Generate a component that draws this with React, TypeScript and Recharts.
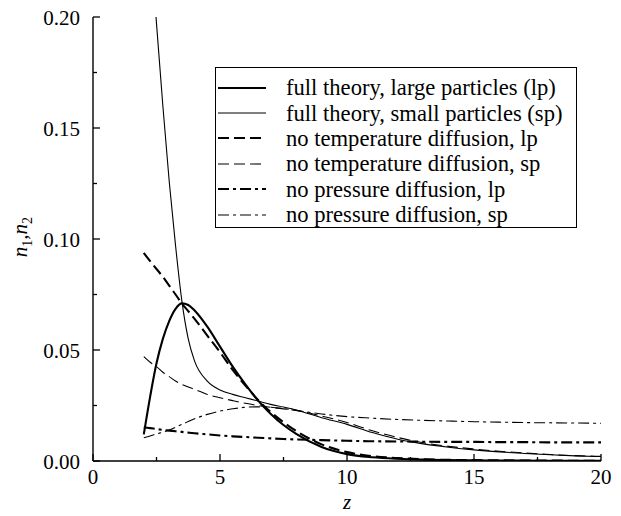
import { LineChart, Line, XAxis, YAxis } from "recharts"

const zValues = [2, 2.25, 2.5, 2.75, 3, 3.25, 3.5, 3.75, 4, 4.5, 5, 5.5, 6, 6.5, 7, 7.5, 8, 9, 10, 11, 12, 13, 14, 15, 16, 17, 18, 19, 20]

const fullLp = [0.012, 0.029, 0.044, 0.055, 0.063, 0.0685, 0.071, 0.0703, 0.0678, 0.0605, 0.0515, 0.0425, 0.0345, 0.0272, 0.0212, 0.0162, 0.0122, 0.0063, 0.0031, 0.0017, 0.001, 0.0006, 0.0004, 0.0003, 0.0002, 0.00015, 0.0001, 0.0001, 0.0001]
const fullSp = [0.29, 0.24, 0.197, 0.16, 0.126, 0.097, 0.072, 0.055, 0.045, 0.036, 0.032, 0.03, 0.0285, 0.027, 0.0255, 0.0243, 0.023, 0.0195, 0.0165, 0.0128, 0.0098, 0.0077, 0.0062, 0.005, 0.0041, 0.0034, 0.0028, 0.0023, 0.002]
const noTempLp = [0.0937, 0.09, 0.0865, 0.083, 0.079, 0.075, 0.071, 0.0675, 0.064, 0.0565, 0.049, 0.041, 0.034, 0.0275, 0.022, 0.0175, 0.0135, 0.0075, 0.004, 0.0022, 0.0013, 0.0008, 0.0005, 0.0004, 0.0003, 0.0002, 0.0002, 0.0001, 0.0001]
const noTempSp = [0.047, 0.0445, 0.0425, 0.04, 0.038, 0.036, 0.0345, 0.0333, 0.0323, 0.03, 0.0285, 0.0272, 0.026, 0.025, 0.0242, 0.0235, 0.0228, 0.0203, 0.0173, 0.0136, 0.0106, 0.0082, 0.0066, 0.0054, 0.0044, 0.0036, 0.0029, 0.0024, 0.0021]
const noPressLp = [0.0152, 0.0148, 0.0144, 0.014, 0.0137, 0.0134, 0.0131, 0.0128, 0.0125, 0.012, 0.0115, 0.0111, 0.0108, 0.0105, 0.0102, 0.0099, 0.0097, 0.0094, 0.0091, 0.0089, 0.0088, 0.0087, 0.0086, 0.0086, 0.0085, 0.0085, 0.0084, 0.0084, 0.0084]
const noPressSp = [0.0105, 0.0113, 0.0122, 0.013, 0.014, 0.0152, 0.0165, 0.0178, 0.019, 0.021, 0.0225, 0.0235, 0.0242, 0.0244, 0.0242, 0.0236, 0.0228, 0.0212, 0.02, 0.0193, 0.0187, 0.0183, 0.018, 0.0177, 0.0175, 0.0173, 0.0172, 0.0171, 0.017]

const xTicks = [0, 2.5, 5, 7.5, 10, 12.5, 15, 17.5, 20]
const yTicks = [0, 0.025, 0.05, 0.075, 0.1, 0.125, 0.15, 0.175, 0.2]

const seriesNames = [
  "full theory, large particles (lp)",
  "full theory, small particles (sp)",
  "no temperature diffusion, lp",
  "no temperature diffusion, sp",
  "no pressure diffusion, lp",
  "no pressure diffusion, sp",
]

const data = zValues.map((z, i) => ({
  z,
  fullLp: fullLp[i],
  fullSp: fullSp[i],
  noTempLp: noTempLp[i],
  noTempSp: noTempSp[i],
  noPressLp: noPressLp[i],
  noPressSp: noPressSp[i],
}))

// line styles, in legend order
const styles = [
  { key: "fullLp", width: 2.1, dash: undefined },
  { key: "fullSp", width: 1.1, dash: undefined },
  { key: "noTempLp", width: 2.1, dash: "11 5" },
  { key: "noTempSp", width: 1.1, dash: "11 5" },
  { key: "noPressLp", width: 2.1, dash: "11 4 3 4" },
  { key: "noPressSp", width: 1.1, dash: "11 4 3 4" },
]

const FONT = "'Liberation Serif', 'Times New Roman', serif"

const isMajor = (v: number, step: number) => Math.abs(v / step - Math.round(v / step)) < 1e-6

function BottomTick(props: any) {
  const { x, y, payload } = props
  const major = isMajor(payload.value, 5)
  return (
    <g>
      <line x1={x} y1={y} x2={x} y2={y - (major ? 7 : 4)} stroke="#000" strokeWidth={1.3} />
      {major && (
        <text x={x} y={y + 23} textAnchor="middle" fontFamily={FONT} fontSize={21} fill="#000">
          {payload.value}
        </text>
      )}
    </g>
  )
}

function TopTick(props: any) {
  const { x, y, payload } = props
  const major = isMajor(payload.value, 5)
  return <line x1={x} y1={y} x2={x} y2={y + (major ? 7 : 4)} stroke="#000" strokeWidth={1.3} />
}

function LeftTick(props: any) {
  const { x, y, payload } = props
  const major = isMajor(payload.value, 0.05)
  return (
    <g>
      <line x1={x} y1={y} x2={x + (major ? 7 : 4)} y2={y} stroke="#000" strokeWidth={1.3} />
      {major && (
        <text x={x - 13} y={y + 7.5} textAnchor="end" fontFamily={FONT} fontSize={21} fill="#000">
          {payload.value.toFixed(2)}
        </text>
      )}
    </g>
  )
}

function RightTick(props: any) {
  const { x, y, payload } = props
  const major = isMajor(payload.value, 0.05)
  return <line x1={x} y1={y} x2={x - (major ? 7 : 4)} y2={y} stroke="#000" strokeWidth={1.3} />
}

function LegendBox() {
  return (
    <div
      style={{
        position: "absolute",
        left: 215,
        top: 67,
        border: "1.3px solid #000",
        background: "#fff",
        width: 362,
        height: 161,
        boxSizing: "border-box",
        paddingTop: 7,
        fontFamily: FONT,
        fontSize: 22.6,
        color: "#000",
      }}
    >
      {styles.map((s, i) => (
        <div key={s.key} style={{ height: 25.4, display: "flex", alignItems: "center" }}>
          <svg width={52} height={10} style={{ marginLeft: 1, flexShrink: 0 }}>
            <line x1={1} y1={5} x2={49} y2={5} stroke="#000" strokeWidth={s.width} strokeDasharray={s.dash} />
          </svg>
          <span style={{ marginLeft: 17, whiteSpace: "nowrap", lineHeight: "25px" }}>{seriesNames[i]}</span>
        </div>
      ))}
    </div>
  )
}

function YLabel(props: any) {
  const { viewBox } = props
  const cx = viewBox.x - 6
  const cy = viewBox.y + viewBox.height / 2 - 2
  return (
    <text
      x={cx}
      y={cy}
      transform={`rotate(-90, ${cx}, ${cy})`}
      textAnchor="middle"
      fontFamily={FONT}
      fontSize={21}
      fontStyle="italic"
      fill="#000"
    >
      n<tspan fontSize={14} dy={5} fontStyle="normal">1</tspan>
      <tspan dy={-5}>,n</tspan>
      <tspan fontSize={14} dy={5} fontStyle="normal">2</tspan>
    </text>
  )
}

export default function App() {
  return (
    <div style={{ position: "absolute", left: 0, top: 0, width: 621, height: 516, background: "#fff" }}>
      <LineChart width={621} height={516} data={data} margin={{ top: 17, right: 20, bottom: 15, left: 33 }}>
        <XAxis
          xAxisId="b"
          dataKey="z"
          type="number"
          domain={[0, 20]}
          ticks={xTicks}
          interval={0}
          allowDataOverflow
          height={40}
          tickSize={0}
          tickMargin={0}
          tickLine={false}
          axisLine={{ stroke: "#000", strokeWidth: 1.4 }}
          tick={(p: any) => <BottomTick {...p} />}
          label={{ value: "z", position: "insideBottom", offset: 0, fontFamily: FONT, fontSize: 21, fontStyle: "italic", fill: "#000", dy: 8 }}
        />
        <XAxis
          xAxisId="t"
          orientation="top"
          type="number"
          domain={[0, 20]}
          ticks={xTicks}
          interval={0}
          allowDataOverflow
          height={0}
          tickSize={0}
          tickMargin={0}
          tickLine={false}
          axisLine={{ stroke: "#000", strokeWidth: 1.4 }}
          tick={(p: any) => <TopTick {...p} />}
        />
        <YAxis
          yAxisId="l"
          type="number"
          domain={[0, 0.2]}
          ticks={yTicks}
          interval={0}
          allowDataOverflow
          width={60}
          tickSize={0}
          tickMargin={0}
          tickLine={false}
          axisLine={{ stroke: "#000", strokeWidth: 1.4 }}
          tick={(p: any) => <LeftTick {...p} />}
          label={{ content: (p: any) => <YLabel {...p} /> }}
        />
        <YAxis
          yAxisId="r"
          orientation="right"
          type="number"
          domain={[0, 0.2]}
          ticks={yTicks}
          interval={0}
          allowDataOverflow
          width={0}
          tickSize={0}
          tickMargin={0}
          tickLine={false}
          axisLine={{ stroke: "#000", strokeWidth: 1.4 }}
          tick={(p: any) => <RightTick {...p} />}
        />
        {styles.map((s, i) => (
          <Line
            key={s.key}
            xAxisId="b"
            yAxisId="l"
            dataKey={s.key}
            name={seriesNames[i]}
            type="monotone"
            stroke="#000"
            strokeWidth={s.width}
            strokeDasharray={s.dash}
            dot={false}
            activeDot={false}
            isAnimationActive={false}
          />
        ))}
      </LineChart>
      <LegendBox />
    </div>
  )
}
